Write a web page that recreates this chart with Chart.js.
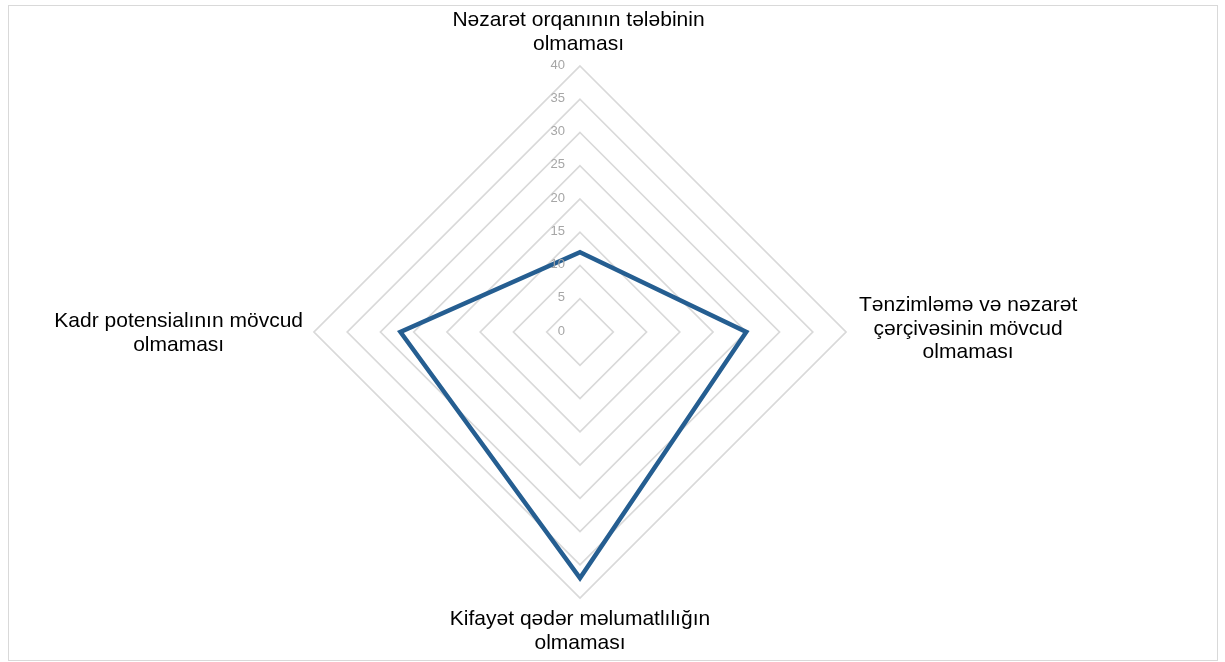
<!DOCTYPE html>
<html>
<head>
<meta charset="utf-8">
<script src="https://cdn.jsdelivr.net/npm/chart.js@4"></script>
<style>
  html, body { margin: 0; padding: 0; background: #fff; }
  #wrap { position: relative; width: 1225px; height: 662px; }
  #frame { position: absolute; left: 8px; top: 5px; width: 1210px; height: 656px; border: 1px solid #d9d9d9; box-sizing: border-box; }
  canvas { position: absolute; left: 0; top: 0; }
</style>
</head>
<body>
<div id="wrap">
  <div id="frame"></div>
  <canvas id="canvas" width="1225" height="662"></canvas>
</div>
<script>
// Kateqoriyalar (radar oxları)
const categories = [
  ['Nəzarət orqanının tələbinin', 'olmaması'],
  ['Tənzimləmə və nəzarət', 'çərçivəsinin mövcud', 'olmaması'],
  ['Kifayət qədər məlumatlılığın', 'olmaması'],
  ['Kadr potensialının mövcud', 'olmaması']
];
const values = [12, 25, 37, 27];
const tickValues = [0, 5, 10, 15, 20, 25, 30, 35, 40];

// oxların yazıları və şkala rəqəmləri öz plugin ilə (Excel kimi mərkəzlənmiş)
const labelPlugin = {
  id: 'labelPlugin',
  afterDraw(chart) {
    const scale = chart.scales.r;
    const ctx = chart.ctx;
    ctx.save();

    // şkala rəqəmləri (boz)
    ctx.font = '13px "Liberation Sans", Arial, sans-serif';
    ctx.fillStyle = '#a6a6a6';
    ctx.textAlign = 'right';
    ctx.textBaseline = 'middle';
    tickValues.forEach(v => {
      const d = scale.getDistanceFromCenterForValue(v);
      ctx.fillText(String(v), scale.xCenter - 15, scale.yCenter - d - 1);
    });

    // kateqoriya yazıları
    ctx.font = '21px "Liberation Sans", Arial, sans-serif';
    ctx.fillStyle = '#000';
    ctx.textAlign = 'center';
    ctx.textBaseline = 'alphabetic';
    const lineH = 23.5;
    categories.forEach((lines, i) => {
      const p = scale.getPointPosition(i, scale.drawingArea);
      const w = Math.max(...lines.map(l => ctx.measureText(l).width));
      let cx, y0;
      if (i === 0) { cx = p.x - 1.5; y0 = p.y - 40; }
      if (i === 1) { cx = p.x + 13 + w / 2; y0 = p.y - 21; }
      if (i === 2) { cx = p.x; y0 = p.y + 27; }
      if (i === 3) { cx = p.x - 11 - w / 2; y0 = p.y - 5; }
      lines.forEach((l, k) => ctx.fillText(l, cx, y0 + k * lineH));
    });
    ctx.restore();
  }
};

const chart = new Chart(document.querySelector('#canvas'), {
  type: 'radar',
  data: {
    labels: categories,
    datasets: [{
      data: values,
      borderColor: '#255e91',
      borderWidth: 4.5,
      fill: false,
      pointRadius: 0,
      tension: 0,
      borderJoinStyle: 'miter'
    }]
  },
  options: {
    responsive: false,
    animation: false,
    layout: { padding: { top: 66, bottom: 64, left: 0, right: 65 } },
    plugins: { legend: { display: false }, tooltip: { enabled: false } },
    scales: {
      r: {
        min: 0,
        max: 40,
        ticks: { stepSize: 5, display: false },
        grid: { color: '#d9d9d9', lineWidth: 1.75 },
        angleLines: { display: false },
        pointLabels: { display: false }
      }
    }
  },
  plugins: [labelPlugin]
});
</script>
</body>
</html>
